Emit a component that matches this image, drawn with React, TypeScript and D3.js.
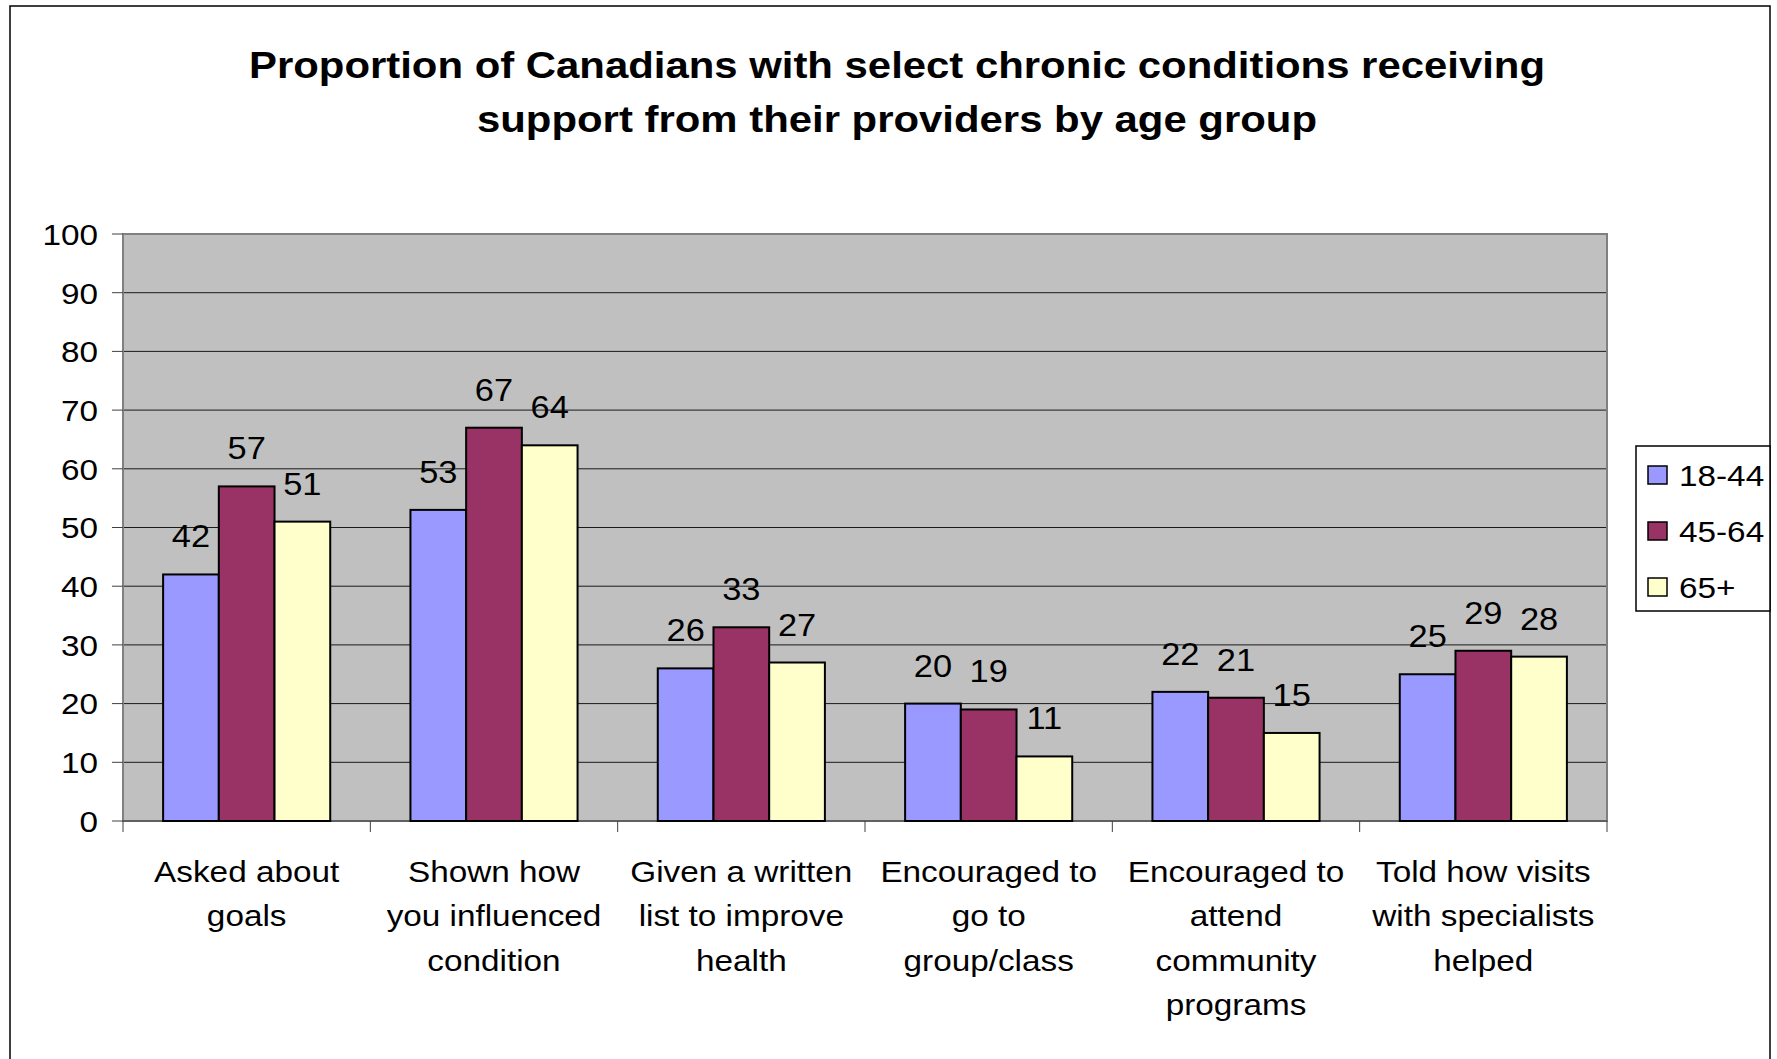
import React from "react";
import * as d3 from "d3";

const categories: string[][] = [
  ["Asked about", "goals"],
  ["Shown how", "you influenced", "condition"],
  ["Given a written", "list to improve", "health"],
  ["Encouraged to", "go to", "group/class"],
  ["Encouraged to", "attend", "community", "programs"],
  ["Told how visits", "with specialists", "helped"],
];
const seriesNames = ["18-44", "45-64", "65+"];
const values18to44 = [42, 53, 26, 20, 22, 25];
const values45to64 = [57, 67, 33, 19, 21, 29];
const values65plus = [51, 64, 27, 11, 15, 28];
const yTicks = [0, 10, 20, 30, 40, 50, 60, 70, 80, 90, 100];
const colors = ["#9999FF", "#993366", "#FFFFCC"];
const titleLines = [
  "Proportion of Canadians with select chronic conditions receiving",
  "support from their providers by age group",
];

const W = 1777;
const H = 1059;
const plot = { left: 123, right: 1607, top: 234, bottom: 821 };
const FONT = "'Liberation Sans', Arial, Helvetica, sans-serif";
const SX = 1.11;

function SText(props: {
  x: number;
  y: number;
  anchor?: string;
  size: number;
  dy?: string;
  children: React.ReactNode;
}) {
  return (
    <text
      transform={`translate(${props.x},${props.y}) scale(${SX},1)`}
      textAnchor={props.anchor || "start"}
      fontSize={props.size}
      dy={props.dy}
    >
      {props.children}
    </text>
  );
}

export default function App() {
  const series = [values18to44, values45to64, values65plus];
  const idx = categories.map((_, i) => String(i));
  const x = d3.scaleBand<string>().domain(idx).range([plot.left, plot.right]).padding(0);
  const inner = d3
    .scaleBand<string>()
    .domain(seriesNames)
    .range([0, x.bandwidth()])
    .paddingInner(0)
    .paddingOuter(0.72);
  const y = d3.scaleLinear().domain([0, 100]).range([plot.bottom, plot.top]);

  return (
    <svg
      width={W}
      height={H}
      style={{ position: "absolute", left: 0, top: 0, background: "#fff" }}
      fontFamily={FONT}
    >
      <rect x={0} y={0} width={W} height={H} fill="#fff" />
      <rect x={10} y={6} width={1760} height={H + 20} fill="none" stroke="#000" strokeWidth={1.5} />

      <text x={897} y={78} textAnchor="middle" fontSize={37} fontWeight="bold" textLength={1296} lengthAdjust="spacingAndGlyphs">
        {titleLines[0]}
      </text>
      <text x={897} y={132} textAnchor="middle" fontSize={37} fontWeight="bold" textLength={840} lengthAdjust="spacingAndGlyphs">
        {titleLines[1]}
      </text>

      <rect
        x={plot.left}
        y={plot.top}
        width={plot.right - plot.left}
        height={plot.bottom - plot.top}
        fill="#C0C0C0"
      />
      {yTicks
        .filter((t) => t > 0 && t < 100)
        .map((t) => (
          <line key={"g" + t} x1={plot.left} x2={plot.right} y1={y(t)} y2={y(t)} stroke="#1a1a1a" strokeWidth={1} />
        ))}
      <rect
        x={plot.left}
        y={plot.top}
        width={plot.right - plot.left}
        height={plot.bottom - plot.top}
        fill="none"
        stroke="#808080"
        strokeWidth={2}
      />
      {yTicks.map((t) => (
        <g key={"t" + t}>
          <line x1={112} x2={plot.left} y1={y(t)} y2={y(t)} stroke="#404040" strokeWidth={1} />
          <SText x={98} y={y(t)} dy="0.36em" anchor="end" size={30}>
            {t}
          </SText>
        </g>
      ))}
      <line x1={plot.left} x2={plot.right} y1={plot.bottom} y2={plot.bottom} stroke="#404040" strokeWidth={1} />
      {[...idx.map((i) => x(i) as number), plot.right].map((px, k) => (
        <line key={"xt" + k} x1={px} x2={px} y1={plot.bottom} y2={plot.bottom + 11} stroke="#404040" strokeWidth={1} />
      ))}

      {idx.map((i, ci) => (
        <g key={"c" + i}>
          {seriesNames.map((s, si) => {
            const v = series[si][ci];
            const bx = (x(i) as number) + (inner(s) as number);
            return (
              <g key={s}>
                <rect
                  x={bx}
                  y={y(v)}
                  width={inner.bandwidth()}
                  height={y(0) - y(v)}
                  fill={colors[si]}
                  stroke="#000"
                  strokeWidth={2}
                />
                <SText x={bx + inner.bandwidth() / 2} y={y(v) - 27} anchor="middle" size={31}>
                  {v}
                </SText>
              </g>
            );
          })}
        </g>
      ))}

      {idx.map((i, ci) => (
        <g key={"cl" + i}>
          {categories[ci].map((line, li) => (
            <SText key={li} x={(x(i) as number) + x.bandwidth() / 2} y={882 + li * 44.4} anchor="middle" size={30}>
              {line}
            </SText>
          ))}
        </g>
      ))}

      <rect x={1636} y={446} width={134} height={165} fill="#fff" stroke="#000" strokeWidth={1.5} />
      {seriesNames.map((s, si) => {
        const cy = 475 + si * 56;
        return (
          <g key={"l" + s}>
            <rect x={1648} y={cy - 9} width={19} height={18} fill={colors[si]} stroke="#000" strokeWidth={1.5} />
            <SText x={1679} y={cy} dy="0.36em" size={30}>
              {s}
            </SText>
          </g>
        );
      })}
    </svg>
  );
}
